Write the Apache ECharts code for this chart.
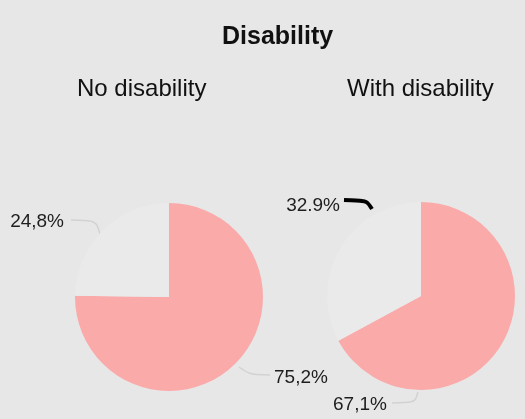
<!DOCTYPE html>
<html>
<head>
<meta charset="utf-8">
<script src="https://cdn.jsdelivr.net/npm/echarts@6/dist/echarts.min.js"></script>
<style>
  html, body { margin: 0; padding: 0; background: #e7e7e7; }
  #chart { width: 525px; height: 419px; }
</style>
</head>
<body>
<div id="chart"></div>
<script>
// 数据
const groups = ["No disability", "With disability"];
const sliceNames = ["Share", "Rest"];
const noDisability = [75.2, 24.8];
const withDisability = [67.1, 32.9];
const noDisabilityLabels = ["75,2%", "24,8%"];
const withDisabilityLabels = ["67,1%", "32.9%"];

const pink = "#fbaaaa";
const faint = "#eaeaea";

// label placement per series / slice (label anchor + leader line)
const labelPlace = [
  [
    { x: 274, y: 378, align: "left", line: [[239, 367], [249, 374], [270, 375]] },
    { x: 64, y: 222, align: "right", line: [[100, 234], [96, 221], [71, 220]] }
  ],
  [
    { x: 333, y: 405, align: "left", line: [[418, 392], [415, 402], [392, 403]] },
    { x: 340, y: 206, align: "right", line: [[372, 209], [367, 201], [344, 200]] }
  ]
];

function buildData(values, labels, lineColors) {
  return values.map(function (v, i) {
    return {
      name: sliceNames[i],
      value: v,
      itemStyle: { color: i === 0 ? pink : faint },
      label: { formatter: labels[i] },
      labelLine: { lineStyle: lineColors[i] }
    };
  });
}

function pieSeries(idx, center, values, labels, lineColors) {
  return {
    type: "pie",
    center: center,
    radius: 94,
    startAngle: 90,
    clockwise: true,
    silent: true,
    emphasis: { disabled: true },
    label: {
      show: true,
      position: "outside",
      overflow: "none",
      fontFamily: "Liberation Sans",
      fontSize: 19,
      color: "#1e1e1e"
    },
    labelLine: { show: true, length: 10, length2: 20, smooth: 0.3 },
    labelLayout: function (params) {
      const p = labelPlace[idx][params.dataIndex];
      return {
        x: p.x,
        y: p.y,
        align: p.align,
        verticalAlign: "middle",
        labelLinePoints: p.line
      };
    },
    data: buildData(values, labels, lineColors)
  };
}

const myChart = echarts.init(document.getElementById("chart"));
const option = {
  backgroundColor: "#e7e7e7",
  animation: false,
  title: [
    {
      text: "Disability",
      left: 217,
      top: 20,
      textStyle: { fontFamily: "Liberation Sans", fontWeight: "bold", fontSize: 25, color: "#111" }
    },
    {
      text: groups[0],
      left: 72,
      top: 72,
      textStyle: { fontFamily: "Liberation Sans", fontWeight: "normal", fontSize: 24, color: "#111" }
    },
    {
      text: groups[1],
      left: 342,
      top: 72,
      textStyle: { fontFamily: "Liberation Sans", fontWeight: "normal", fontSize: 24, color: "#111" }
    }
  ],
  series: [
    pieSeries(0, [169, 297], noDisability, noDisabilityLabels, [
      { color: "#d2d2d2", width: 1.5 },
      { color: "#d2d2d2", width: 1.5 }
    ]),
    pieSeries(1, [421, 296], withDisability, withDisabilityLabels, [
      { color: "#d2d2d2", width: 1.5 },
      { color: "#000", width: 4 }
    ])
  ]
};
option && myChart.setOption(option, true);
</script>
</body>
</html>
